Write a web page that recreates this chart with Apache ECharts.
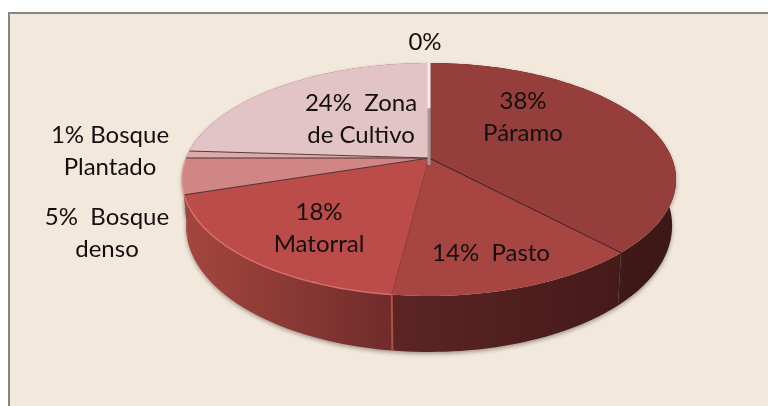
<!DOCTYPE html>
<html>
<head>
<meta charset="utf-8">
<style>html,body{margin:0;padding:0;background:#fff}#c{width:768px;height:406px}</style>
<script src="https://cdn.jsdelivr.net/npm/echarts@6/dist/echarts.min.js"></script>
</head>
<body>
<div id="c"></div>
<script>
const categories = ['Páramo', 'Pasto', 'Matorral', 'Bosque denso', 'Bosque Plantado', 'Zona de Cultivo', 'Otros'];
const values = [38, 14, 18, 5, 1, 24, 0];
const labels = ['38%\nPáramo', '14%  Pasto', '18%\nMatorral', '5%  Bosque\ndenso', '1% Bosque\nPlantado', '24%  Zona\nde Cultivo', '0%'];
const sliceColors = ['#953e3b', '#a74543', '#bb4c4a', '#cf8685', '#dcaaa9', '#e3c4c6', '#ffffff'];
const edgeColors = [null, '#3a1a18', '#8c3a38', '#4a3230', '#4a3230', '#5a3a3a', null];
const rimColors = [null, null, '#d9706b', '#dc9c9a', null, null, null];
const wallLeft = ['#431b19', '#5c2523', '#a5463f', '#a5463f', '#a5463f', '#a5463f', '#a5463f'];
const wallRight = ['#3c1817', '#451a19', '#6f2c2a', '#a5463f', '#a5463f', '#a5463f', '#a5463f'];
const seamColors = [null, null, '#b44e49', null, null, null, null];
const labelX = [523, 491, 319, 107, 110, 361, 425];
const labelY = [117, 253, 228, 233, 151, 119, 42];

// projective model of the tilted disc
const CX = 429, CY = 158, R = 242.8, S = 112.5, K = 0.1845;
const total = values.reduce((a, b) => a + b, 0);
const cum = [];
values.reduce((a, v, i) => (cum[i] = a, a + v), 0);
function rim(frac) {
  const t = frac * 2 * Math.PI, u = Math.sin(t), v = -Math.cos(t), d = 1 - K * v;
  return { x: CX + R * u / d, y: CY + S * v / d, v };
}
function under(p) {
  return [CX + 0.984 * (p.x - CX), p.y + 44 + 12 * p.v];
}
function arc(i) {
  const a = cum[i] / total, b = (cum[i] + values[i]) / total, pts = [];
  const n = Math.max(2, Math.ceil((b - a) * 240));
  for (let k = 0; k <= n; k++) pts.push(rim(a + (b - a) * k / n));
  return pts;
}
const seriesData = values.map((v, i) => ({ name: categories[i], value: v }));

function renderWall(params, api) {
  const i = params.dataIndex;
  if (!values[i]) return { type: 'group', children: [] };
  const pts = arc(i);
  const poly = pts.map(p => [p.x, p.y]).concat(pts.slice().reverse().map(under));
  const children = [{
    type: 'polygon',
    shape: { points: poly },
    style: {
      fill: { type: 'linear', x: 0, y: 0, x2: 1, y2: 0, colorStops: [
        { offset: 0, color: wallLeft[i] }, { offset: 1, color: wallRight[i] }] },
      stroke: null,
      shadowBlur: 4, shadowColor: 'rgba(60,50,40,0.45)', shadowOffsetY: 2, shadowOffsetX: 0
    }
  }];
  if (seamColors[i]) {
    const b = under(pts[0]);
    children.push({
      type: 'line',
      shape: { x1: pts[0].x, y1: pts[0].y, x2: b[0], y2: b[1] },
      style: { lineWidth: 2, stroke: seamColors[i] }
    });
  }
  return { type: 'group', children };
}
function renderTop(params, api) {
  const i = params.dataIndex;
  const pts = arc(i);
  const children = [];
  if (values[i]) {
    children.push({
      type: 'polygon',
      shape: { points: [[CX, CY]].concat(pts.map(p => [p.x, p.y])) },
      style: { fill: sliceColors[i], stroke: null }
    });
    if (edgeColors[i]) {
      children.push({
        type: 'line',
        shape: { x1: CX, y1: CY, x2: pts[0].x, y2: pts[0].y },
        style: { lineWidth: 1, stroke: edgeColors[i] }
      });
    }
    if (rimColors[i]) {
      children.push({
        type: 'polyline',
        shape: { points: pts.map(p => [p.x, p.y]) },
        style: { lineWidth: 1.4, stroke: rimColors[i], fill: null }
      });
    }
  } else {
    children.push({
      type: 'line',
      shape: { x1: CX, y1: pts[0].y, x2: CX, y2: CY + 7 },
      style: {
        lineWidth: 3,
        stroke: { type: 'linear', x: 0, y: 0, x2: 0, y2: 1, colorStops: [
          { offset: 0, color: '#f4ecea' }, { offset: 0.44, color: '#f4ecea' },
          { offset: 0.45, color: '#a39c98' }, { offset: 1, color: '#a39c98' }] }
      }
    });
  }
  return { type: 'group', children };
}
function renderLabel(params, api) {
  const i = params.dataIndex;
  return {
    type: 'text',
    style: {
      x: labelX[i], y: labelY[i], text: labels[i], align: 'center', verticalAlign: 'middle',
      font: '24px Lato, Carlito, sans-serif', lineHeight: 32, fill: '#141010'
    }
  };
}
const chart = echarts.init(document.getElementById('c'), null, { renderer: 'canvas' });
chart.setOption({
  animation: false,
  backgroundColor: '#ffffff',
  graphic: [
    { type: 'rect', z: 0, shape: { x: 9, y: 13, width: 770, height: 400 },
      style: { fill: '#f2e8dc', stroke: '#868686', lineWidth: 2 } }
  ],
  series: [
    { type: 'custom', coordinateSystem: 'none', z: 1, renderItem: renderWall, data: seriesData, silent: true },
    { type: 'custom', coordinateSystem: 'none', z: 2, renderItem: renderTop, data: seriesData, silent: true },
    { type: 'custom', coordinateSystem: 'none', z: 3, renderItem: renderLabel, data: seriesData, silent: true }
  ]
});
</script>
</body>
</html>
